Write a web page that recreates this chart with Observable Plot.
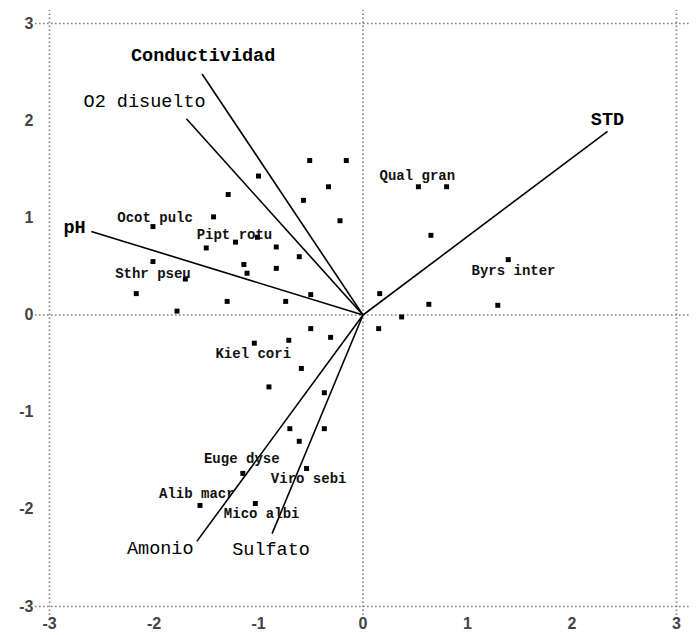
<!DOCTYPE html>
<html>
<head>
<meta charset="utf-8">
<script src="https://cdn.jsdelivr.net/npm/d3@7"></script>
<script src="https://cdn.jsdelivr.net/npm/@observablehq/plot@0.6"></script>
<style>
  html, body { margin: 0; padding: 0; background: #fff; }
  #chart svg { display: block; }
</style>
</head>
<body>
<div id="chart"></div>
<script>
// Sample/species scores
const ptX = [-0.51,-0.16,-1.00,-0.33,-1.29,-0.57,-1.43,-0.22,-2.01,-1.22,-1.01,-0.83,-1.50,-0.61,-2.01,-1.14,-0.83,-1.11,-1.70,-2.17,-0.50,-1.30,-0.74,-1.78,
             0.53,0.80,0.65,1.39,0.16,0.63,1.29,0.37,0.15,
             -0.50,-0.31,-0.71,-1.04,-0.59,-0.90,-0.37,-0.70,-0.37,-0.61,-0.54,-1.15,-1.03,-1.56];
const ptY = [1.59,1.59,1.43,1.32,1.24,1.18,1.01,0.97,0.91,0.75,0.80,0.70,0.69,0.60,0.55,0.52,0.48,0.43,0.37,0.22,0.21,0.14,0.14,0.04,
             1.32,1.32,0.82,0.57,0.22,0.11,0.10,-0.02,-0.14,
             -0.14,-0.23,-0.26,-0.29,-0.55,-0.74,-0.80,-1.17,-1.17,-1.30,-1.58,-1.63,-1.94,-1.96];

// Species labels (position of label centre in data units)
const spNames = ["Ocot pulc","Pipt rotu","Sthr pseu","Qual gran","Byrs inter","Kiel cori","Euge dyse","Viro sebi","Alib macr","Mico albi"];
const spLabX  = [-1.99,-1.23,-2.01,0.52,1.44,-1.05,-1.16,-0.52,-1.59,-0.97];
const spLabY  = [1.00,0.83,0.43,1.44,0.46,-0.40,-1.48,-1.68,-1.84,-2.04];

// Environmental vectors
const varNames = ["Conductividad","O2 disuelto","pH","STD","Amonio","Sulfato"];
const varX = [-1.54,-1.69,-2.60,2.34,-1.59,-0.87];
const varY = [2.48,2.02,0.86,1.89,-2.33,-2.25];
const varLabX = [-1.53,-2.09,-2.76,2.34,-1.94,-0.88];
const varLabY = [2.67,2.20,0.90,2.02,-2.40,-2.41];
const boldVars = ["Conductividad","pH","STD"];

// Axis ticks / reference lines
const ticks = [-3,-2,-1,0,1,2,3];
const refLines = [-3,0,3];
const ext = 0.135;

const points = ptX.map((x, i) => ({x, y: ptY[i]}));
const spLabels = spNames.map((name, i) => ({name, x: spLabX[i], y: spLabY[i]}));
const vectors = varNames.map((name, i) => ({name, x: varX[i], y: varY[i], lx: varLabX[i], ly: varLabY[i]}));

const font = "'Liberation Mono', 'DejaVu Sans Mono', monospace";
const tickFont = "'Liberation Sans', Arial, sans-serif";
const fmt = d => String(d).replace("−", "-");

const chart = Plot.plot({
  width: 696,
  height: 635,
  marginLeft: 49,
  marginRight: 20,
  marginTop: 23,
  marginBottom: 29,
  x: {domain: [-3, 3], ticks: ticks},
  y: {domain: [-3, 3], ticks: ticks},
  style: {fontFamily: font, background: "#fff"},
  marks: [
    Plot.ruleX(refLines, {x: d => d, y1: -3 - ext, y2: 3 + ext, stroke: "#858585", strokeWidth: 1.7, strokeDasharray: "1.7,2.3"}),
    Plot.ruleY(refLines, {y: d => d, x1: -3 - ext, x2: 3 + ext, stroke: "#858585", strokeWidth: 1.7, strokeDasharray: "1.7,2.3"}),
    Plot.axisY(ticks, {tickSize: 0, tickPadding: 16, fontSize: 16, fontWeight: "bold", fontFamily: tickFont, fill: "#444", label: null, tickFormat: fmt}),
    Plot.axisX(ticks, {tickSize: 0, tickPadding: 11, fontSize: 16, fontWeight: "bold", fontFamily: tickFont, fill: "#444", label: null, tickFormat: fmt}),
    Plot.link(vectors, {x1: 0, y1: 0, x2: "x", y2: "y", stroke: "#000", strokeWidth: 1.6}),
    Plot.dot(points, {x: "x", y: "y", symbol: "square", r: 2.8, fill: "#000", stroke: "none"}),
    Plot.text(spLabels, {x: "x", y: "y", text: "name", fontSize: 14, fontWeight: "bold", fill: "#111"}),
    Plot.text(vectors.filter(d => boldVars.includes(d.name)), {x: "lx", y: "ly", text: "name", fontSize: 18.5, fontWeight: "bold", fill: "#000"}),
    Plot.text(vectors.filter(d => !boldVars.includes(d.name)), {x: "lx", y: "ly", text: "name", fontSize: 18.5, fill: "#000"})
  ]
});
document.getElementById("chart").appendChild(chart);
</script>
</body>
</html>
